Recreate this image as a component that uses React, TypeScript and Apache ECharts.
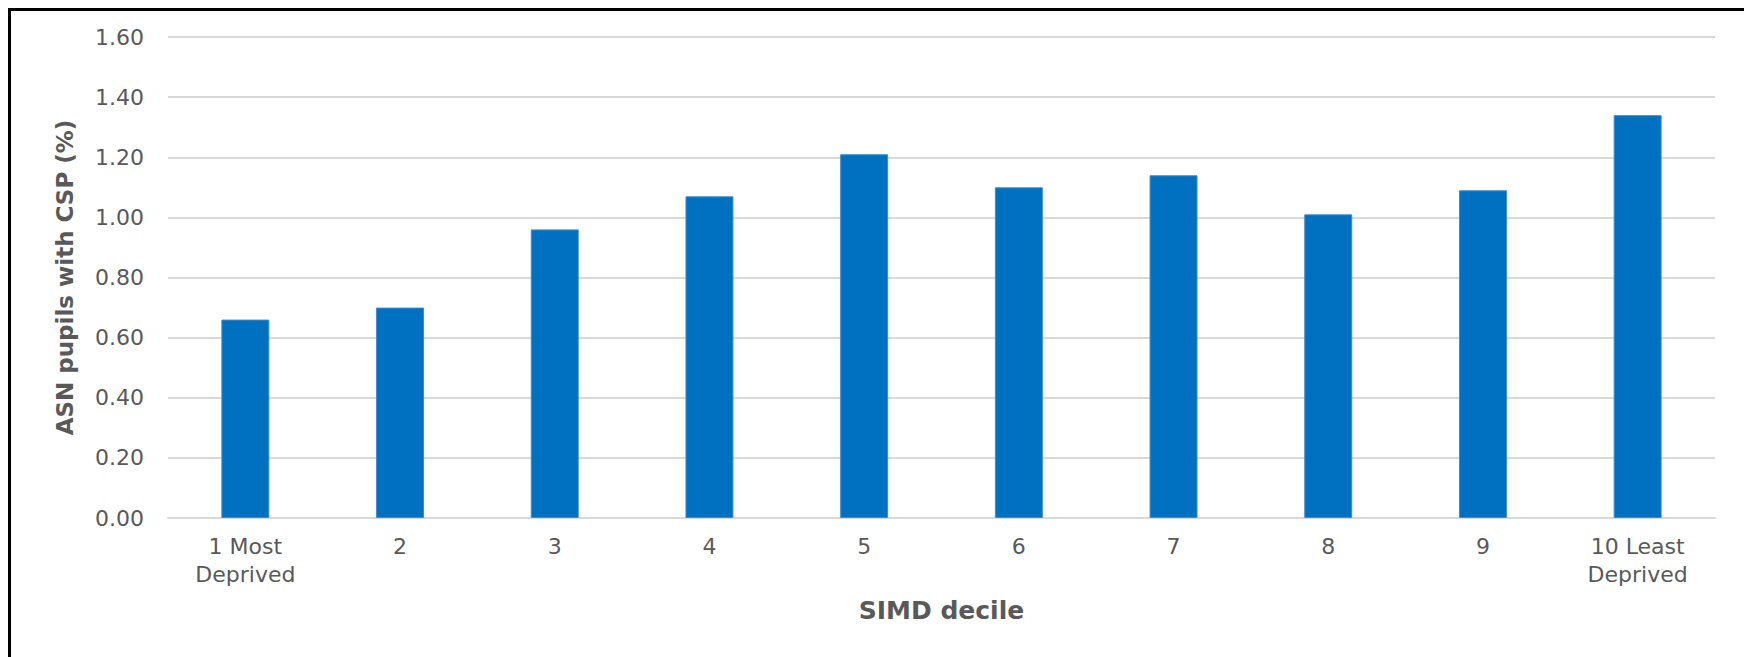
import React, { useEffect, useRef } from "react";
import * as echarts from "echarts";

// SIMD deciles, most to least deprived
const deciles = [
  "1 Most\nDeprived",
  "2",
  "3",
  "4",
  "5",
  "6",
  "7",
  "8",
  "9",
  "10 Least\nDeprived",
];

// Share of ASN pupils with a Co-ordinated Support Plan (%)
const cspShare = [0.66, 0.7, 0.96, 1.07, 1.21, 1.1, 1.14, 1.01, 1.09, 1.34];

const yTicks = { min: 0, max: 1.6, interval: 0.2 };

const TEXT = "#595959";
const FONT = "DejaVu Sans";

export default function App() {
  const ref = useRef<HTMLDivElement>(null);

  useEffect(() => {
    if (!ref.current) return;
    const chart = echarts.init(ref.current, undefined, { renderer: "svg" });
    chart.setOption({
      animation: false,
      backgroundColor: "#ffffff",
      grid: { left: 157, right: 31, top: 26, bottom: 139, containLabel: false },
      xAxis: {
        type: "category",
        data: deciles,
        name: "SIMD decile",
        nameLocation: "middle",
        nameGap: 80,
        nameTextStyle: {
          color: TEXT,
          fontFamily: FONT,
          fontWeight: "bold",
          fontSize: 25,
        },
        axisLine: { show: true, lineStyle: { color: "#d9d9d9", width: 2 } },
        axisTick: { show: false },
        axisLabel: {
          color: TEXT,
          fontFamily: FONT,
          fontSize: 22,
          lineHeight: 28,
          margin: 14,
          interval: 0,
        },
      },
      yAxis: {
        type: "value",
        min: yTicks.min,
        max: yTicks.max,
        interval: yTicks.interval,
        name: "ASN pupils with CSP (%)",
        nameLocation: "middle",
        nameGap: 92,
        nameRotate: 90,
        nameTextStyle: {
          color: TEXT,
          fontFamily: FONT,
          fontWeight: "bold",
          fontSize: 23,
        },
        axisLine: { show: false },
        axisTick: { show: false },
        axisLabel: {
          color: TEXT,
          fontFamily: FONT,
          fontSize: 22,
          margin: 24,
          formatter: (v: number) => v.toFixed(2),
        },
        splitLine: { show: true, lineStyle: { color: "#d9d9d9", width: 2 } },
      },
      series: [
        {
          type: "bar",
          data: cspShare,
          barWidth: "31%",
          itemStyle: {
            color: "#0070C0",
            borderColor: "#3d8ccc",
            borderWidth: 1,
          },
          z: 3,
        },
      ],
    });
    return () => chart.dispose();
  }, []);

  return (
    <div
      style={{
        width: 1741,
        height: 649,
        boxSizing: "border-box",
        borderTop: "3px solid #000",
        borderLeft: "3px solid #000",
        borderRight: "3px solid #000",
        background: "#fff",
      }}
    >
      <div ref={ref} style={{ width: 1735, height: 646 }} />
    </div>
  );
}
